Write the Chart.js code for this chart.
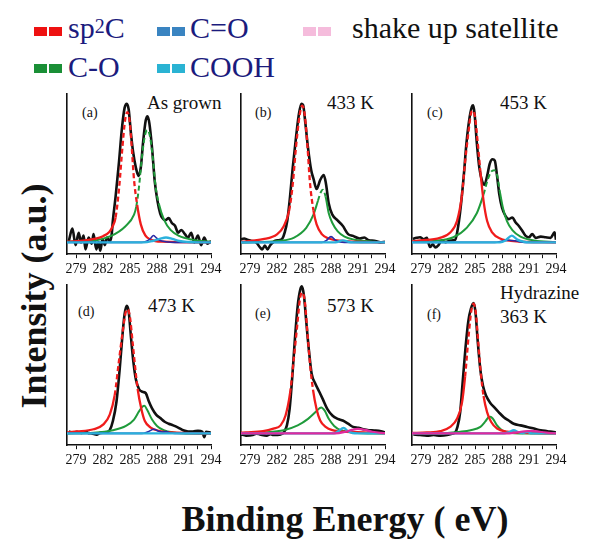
<!DOCTYPE html>
<html>
<head>
<meta charset="utf-8">
<script src="https://cdn.jsdelivr.net/npm/chart.js@4.4.1/dist/chart.umd.min.js"></script>
<style>
  body { margin: 0; width: 595px; height: 541px; position: relative; overflow: hidden; background: #fff;
         font-family: 'Liberation Serif', 'Times New Roman', serif; }
  canvas { position: absolute; }
  .t { position: absolute; white-space: nowrap; line-height: 1; color: #111; font-family: 'Liberation Serif', serif; }
  .sq { position: absolute; width: 13px; height: 9px; }
  .lg { position: absolute; white-space: nowrap; line-height: 1; font-size: 30px; color: #1b1b7d;
        font-family: 'Liberation Serif', 'Times New Roman', serif; }
</style>
</head>
<body>

<!-- legend -->
<div class="sq" style="left:34px;top:27px;background:#ee1111"></div>
<div class="sq" style="left:49px;top:27px;background:#ee1111"></div>
<div class="lg" style="left:68px;top:13px">sp<span style="font-size:20px;vertical-align:5px">2</span>C</div>
<div class="sq" style="left:157px;top:27px;background:#3a84c1"></div>
<div class="sq" style="left:172px;top:27px;background:#3a84c1"></div>
<div class="lg" style="left:190px;top:13px">C=O</div>
<div class="sq" style="left:303px;top:27px;background:#f5bcdc"></div>
<div class="sq" style="left:318px;top:27px;background:#f5bcdc"></div>
<div class="lg" style="left:352px;top:13px;color:#111">shake up satellite</div>
<div class="sq" style="left:34px;top:64px;background:#1a8f36"></div>
<div class="sq" style="left:49px;top:64px;background:#1a8f36"></div>
<div class="lg" style="left:68px;top:52px">C-O</div>
<div class="sq" style="left:157px;top:64px;background:#2ab3d3"></div>
<div class="sq" style="left:172px;top:64px;background:#2ab3d3"></div>
<div class="lg" style="left:190px;top:52px">COOH</div>

<!-- axis titles -->
<div class="t" style="left:-116px;top:278px;width:300px;text-align:center;font-size:36px;line-height:36px;font-weight:bold;transform:rotate(-90deg)">Intensity (a.u.)</div>
<div class="t" style="left:95px;top:501px;width:500px;text-align:center;font-size:36px;font-weight:bold">Binding Energy ( eV)</div>

<!-- panel captions -->
<div class="t" style="left:82px;top:106px;font-size:14px">(a)</div>
<div class="t" style="left:147px;top:93px;font-size:19px">As grown</div>
<div class="t" style="left:255px;top:106px;font-size:14px">(b)</div>
<div class="t" style="left:327px;top:93px;font-size:19px">433 K</div>
<div class="t" style="left:427px;top:106px;font-size:14px">(c)</div>
<div class="t" style="left:500px;top:93px;font-size:19px">453 K</div>
<div class="t" style="left:78px;top:305px;font-size:14px">(d)</div>
<div class="t" style="left:148px;top:296px;font-size:19px">473 K</div>
<div class="t" style="left:255px;top:307px;font-size:14px">(e)</div>
<div class="t" style="left:327px;top:296px;font-size:19px">573 K</div>
<div class="t" style="left:427px;top:308px;font-size:14px">(f)</div>
<div class="t" style="left:500px;top:283px;font-size:19px">Hydrazine</div>
<div class="t" style="left:500px;top:307px;font-size:19px">363 K</div>

<script>
// x axis ticks (binding energy, eV)
const tickVals = [279, 282, 285, 288, 291, 294];
const minorVals = [280.5, 283.5, 286.5, 289.5, 292.5];

// (a) as grown  -- [energy, intensity]
const a_exp = [[278.2,1],[278.6,10],[278.95,-2],[279.3,7],[279.55,0],[279.85,5],[280.05,-5],[280.4,3.5],[280.75,-1],[280.95,6],[281.25,-5],[281.5,0],[281.7,-6],[281.95,2.5],[282.2,-2],[282.45,3.5],[282.75,1],[282.95,5],[283.1,16],[283.4,33],[283.75,56],[284.1,82],[284.4,97],[284.65,100],[284.85,96],[285.1,79],[285.35,65],[285.65,54],[285.95,48],[286.2,54],[286.45,72],[286.75,88],[286.95,91],[287.15,86],[287.45,68],[287.75,44],[288.05,30],[288.35,21],[288.6,17.5],[288.9,16],[289.3,17.5],[289.65,14],[290,12],[290.35,7],[290.7,9],[291.1,6],[291.45,3.5],[291.8,7],[292.15,0],[292.55,5],[292.9,-2],[293.25,3.5],[293.6,-1],[294,1]];
const a_sp2 = [[278,0.5],[280,1.5],[281,2.5],[282,4.5],[282.7,7.5],[283.1,12],[283.4,18],[283.8,40],[284.15,68],[284.45,88],[284.7,94],[284.95,88],[285.2,68],[285.45,45],[285.8,27],[286.2,13],[286.7,5],[287.3,2],[288.5,0.5],[294,0]];
const a_cO = [[278,0.5],[280.8,1.2],[282.9,4.7],[284.5,11.7],[285.45,20],[285.7,26],[286,40],[286.3,60],[286.6,75],[286.9,81],[287.2,77],[287.5,63],[287.85,40],[288.2,28],[288.8,16],[289.5,9],[290.45,4.7],[291.9,2],[294,0.5]];
const a_cdO = [[278,0],[286.3,0],[286.9,1],[287.3,3],[287.6,5],[287.9,3.5],[288.3,1.5],[289,0.5],[290,0],[294,0]];
const a_cooh = [[278,0],[286.5,0],[287.5,1],[288.3,2.5],[289,3.5],[289.7,2.5],[290.5,1],[291.5,0.3],[292.5,0],[294,0]];

// (b) 433 K
const b_exp = [[278,2.3],[278.35,2.8],[278.7,1.9],[279.1,1.2],[279.7,0],[280.1,-3.5],[280.35,-5],[280.65,-2.3],[280.95,-5],[281.25,-2],[281.55,0],[281.8,1.2],[282.2,1.6],[282.6,2.8],[282.85,7],[283.15,16],[283.45,33],[283.75,54],[284.1,75],[284.4,91],[284.7,100],[284.9,99],[285.15,86],[285.45,68],[285.8,52],[286.05,46],[286.4,38.5],[286.8,45],[287.2,48.6],[287.45,42],[287.75,28],[288.15,20],[288.7,16],[289.3,12],[289.9,6],[290.45,4.7],[291.2,2.8],[291.7,3.5],[292.2,1.5],[292.8,1.2],[293.5,0],[294,0.5]];
const b_sp2 = [[278,0.3],[280.45,2.3],[282,5.8],[282.75,11.7],[283.35,23],[283.75,42],[284.1,68],[284.5,91],[284.8,98.6],[285.1,91],[285.4,68],[285.65,44],[286.05,23],[286.4,13],[287,5.8],[287.75,2.8],[288.9,1.2],[294,0]];
const b_cO = [[278,0],[282.4,1.2],[283.9,3.5],[285.25,10.5],[286.05,20],[286.55,30],[286.85,36],[287.1,38],[287.4,33],[287.75,21],[288.15,14],[288.75,8],[289.5,4.2],[290.65,1.9],[292.8,0.5],[294,0.2]];
const b_cdO = [[278,0],[287,0],[287.5,1.5],[288,4.2],[288.5,1.5],[289,0.3],[289.5,0],[294,0]];
const b_cooh = [[278,0],[288.5,0],[289.3,1.5],[290,0.3],[290.5,0],[294,0]];

// (c) 453 K
const c_exp = [[278.1,2.6],[278.5,3.3],[278.9,3.7],[279.3,2.3],[279.65,3.3],[280,-3.3],[280.3,-1.4],[280.6,-3.7],[280.95,-1.9],[281.3,1.4],[281.7,0.2],[282.25,1.4],[282.8,1.9],[283.05,8.4],[283.35,22],[283.75,48],[284.05,71.5],[284.35,88],[284.65,97.7],[284.8,98.8],[284.95,93],[285.2,72],[285.5,53],[285.8,44],[286.05,41.6],[286.35,48],[286.65,57],[286.95,60],[287.2,59],[287.45,48],[287.7,34.6],[288,25],[288.4,19],[288.75,16.8],[289.15,18],[289.5,14.5],[289.85,12],[290.25,8.4],[290.6,4.9],[291,3.7],[291.35,6],[291.75,3.3],[292.3,4.2],[292.85,3.7],[293.4,3.3],[293.85,7.2],[294,2]];
const c_sp2 = [[278,0.8],[278.9,1.4],[281.1,3.3],[282.25,7.2],[283,15.4],[283.55,34],[283.9,58],[284.3,81],[284.55,93],[284.78,95],[285,90.6],[285.3,72],[285.6,51],[285.95,30],[286.35,15.4],[286.9,7.2],[287.85,2.6],[289.3,1],[294,0]];
const c_cO = [[278,0.3],[280.4,1],[282.6,3.7],[284.1,10.7],[285.2,21],[285.95,34.6],[286.4,45],[286.8,51],[287.15,52],[287.45,48.6],[287.75,37],[288.1,25],[288.55,15.4],[289.15,8.9],[290.05,4.2],[291.55,1.4],[294,0.3]];
const c_cdO = [[278,0],[287.2,0],[288.2,1.2],[288.8,1.6],[289.6,1],[290.5,0],[294,0]];
const c_cooh = [[278,0],[287.8,0],[288.4,1.5],[289.1,4.9],[289.7,2],[290.4,0.5],[291,0],[294,0]];

// (d) 473 K
const d_exp = [[278.2,1.4],[278.7,0.5],[279.1,1.2],[279.6,0.3],[280.05,1.4],[280.4,0.2],[280.75,0],[281.3,-1],[281.7,0.4],[282.05,0.5],[282.4,0.7],[282.75,2.3],[283.1,8.9],[283.5,23],[283.85,46],[284.15,70],[284.4,86],[284.65,92],[284.85,88],[285.1,70],[285.35,53],[285.65,39],[286,32],[286.4,30],[286.75,29],[287.1,23],[287.45,18],[287.9,13.5],[288.35,11.2],[288.85,8.4],[289.3,7],[289.8,5.8],[290.35,4.2],[290.9,2.3],[291.45,1.4],[292,1.4],[292.55,1.9],[293.05,1.2],[293.25,-2.8],[293.45,1.2],[294,0.5]];
const d_sp2 = [[278,0.8],[279.1,1.4],[280.95,3],[282.05,6.5],[282.75,13.5],[283.3,27.6],[283.75,51],[284.2,74],[284.55,88],[284.75,89.5],[285,83.6],[285.3,65],[285.6,46],[285.85,32],[286.25,18],[286.65,8.9],[287.3,4.2],[288.2,1.9],[289.65,0.7],[294,0]];
const d_cO = [[278,0],[280.95,0.5],[283.1,2.3],[284.55,5.4],[285.45,10],[286,15.9],[286.4,19.4],[286.6,20],[286.9,17],[287.45,10],[288,5.4],[288.75,2.3],[289.8,0.7],[291.8,0],[294,0]];
const d_cdO = [[278,0],[286.3,0],[287,1.2],[287.65,3],[288.2,1.5],[288.6,1],[289,1.4],[289.5,0.3],[290,0],[294,0]];
const d_cooh = [[278,0],[294,0]];

// (e) 573 K
const e_exp = [[278,-0.7],[278.55,-1.6],[279.3,-1.2],[279.7,-0.2],[280.1,-0.7],[280.85,-1.6],[281.25,-0.5],[281.6,-1.2],[282.4,-0.7],[282.75,0.7],[283.1,5.8],[283.4,17.5],[283.7,41],[284,69],[284.3,92],[284.6,104],[284.77,106],[285,99],[285.25,80.6],[285.55,59.6],[285.85,43],[286.25,36],[286.7,30],[287.1,24.5],[287.6,17.5],[288.15,12.9],[288.75,10.5],[289.3,9.3],[289.9,7],[290.45,4.7],[291.05,4],[291.6,3],[292.2,2.3],[292.8,2.1],[293.55,1.6],[294,0.7]];
const e_sp2 = [[278,0.5],[278.55,0.7],[280.45,1.6],[281.6,3.5],[282.4,5.8],[282.95,12.9],[283.45,29],[283.85,52.6],[284.25,78],[284.55,97],[284.8,101.6],[285.1,94.6],[285.4,71],[285.7,48],[286,31.5],[286.4,17.5],[286.8,9.3],[287.4,4.7],[288.15,2.3],[289.7,1.2],[294,0.2]];
const e_cO = [[278,0],[280.45,0.7],[282.75,2.3],[284.3,5.8],[285.45,10.5],[286.25,15.2],[286.7,18],[286.92,18.7],[287.3,16.4],[287.75,10.5],[288.35,5.4],[289.1,2.3],[290.45,0.7],[292.7,0],[294,0]];
const e_cooh = [[278,0],[288.3,0],[288.8,1.5],[289.4,4],[289.9,1.5],[290.4,0.3],[291,0],[294,0]];
const e_shake = [[278,0],[288.5,0],[289.5,1],[290.3,2.5],[291,3.2],[291.8,2.5],[292.6,1.2],[293.5,0.4],[294,0.2]];

// (f) hydrazine 363 K
const f_exp = [[278.15,-0.7],[278.9,-1.2],[279.65,-1.6],[280.4,-1.2],[281.15,-1.6],[281.9,-1.2],[282.45,-0.3],[282.8,0.7],[283.05,4.7],[283.35,15.2],[283.65,38.6],[283.95,62],[284.25,80.6],[284.55,90],[284.85,94],[285.05,87.6],[285.3,66.6],[285.6,45.6],[285.9,33.9],[286.25,26.9],[286.7,22],[287.15,18.7],[287.65,15.2],[288.2,11.7],[288.75,9.3],[289.3,7],[290.05,5.8],[290.8,4.7],[291.55,3.5],[292.3,2.3],[293.05,1.6],[293.75,0.9],[294,0.7]];
const f_sp2 = [[278,0.3],[279.65,0.7],[281.15,1.6],[282.25,4.7],[283,10.5],[283.55,22],[283.9,41],[284.3,71],[284.6,88.8],[284.85,93.5],[285.1,86.4],[285.35,66.6],[285.65,43],[285.95,27],[286.35,15.2],[286.8,8.2],[287.45,3.5],[288.55,1.2],[290.05,0.5],[294,0]];
const f_cO = [[278,0],[281.15,0],[283.35,1.2],[284.5,2.3],[285.6,4.7],[286.15,8.6],[286.5,11.7],[286.7,12.1],[287,10.5],[287.45,5.8],[288,2.3],[288.75,0.7],[290,0],[294,0]];
const f_cooh = [[278,0],[288.2,0],[288.8,1],[289.3,2.3],[289.8,1],[290.3,0.3],[290.8,1.2],[291.3,0],[294,0]];
const f_shake = [[278,0],[288.5,0],[289.5,0.6],[290.5,1.5],[291.3,1.8],[292.2,1.2],[293.2,0.4],[294,0]];

const col = { exp: '#111111', sp2: '#f01c1c', cO: '#1f9b3b', cdO: '#2a2aa6', cooh: '#2bb1dc', shake: '#e02a9e' };

// panel boxes (chart area position) and which parts are dashed
const W = 144, H = 165;
const panels = [
  { x: 67,  y: 94,  exp: a_exp, sp2: a_sp2, cO: a_cO, cdO: a_cdO, cooh: a_cooh, shake: null,    redDash: 16, greenDash: 22 },
  { x: 241, y: 94,  exp: b_exp, sp2: b_sp2, cO: b_cO, cdO: b_cdO, cooh: b_cooh, shake: null,    redDash: 18, greenDash: 28 },
  { x: 412, y: 94,  exp: c_exp, sp2: c_sp2, cO: c_cO, cdO: c_cdO, cooh: c_cooh, shake: null,    redDash: 30, greenDash: 34 },
  { x: 67,  y: 285, exp: d_exp, sp2: d_sp2, cO: d_cO, cdO: d_cdO, cooh: d_cooh, shake: null,    redDash: 18, greenDash: null },
  { x: 241, y: 285, exp: e_exp, sp2: e_sp2, cO: e_cO, cdO: null,  cooh: e_cooh, shake: e_shake, redDash: 20, greenDash: null },
  { x: 412, y: 285, exp: f_exp, sp2: f_sp2, cO: f_cO, cdO: null,  cooh: f_cooh, shake: f_shake, redDash: 22, greenDash: null },
];

function line(data, color, width, dashAbove) {
  const ds = {
    data: data.map(p => ({ x: p[0], y: p[1] })),
    borderColor: color,
    borderWidth: width,
    pointRadius: 0,
    fill: false,
    cubicInterpolationMode: 'monotone',
  };
  if (dashAbove != null) {
    ds.segment = {
      borderDash: c => (c.p0.parsed.y > dashAbove && c.p1.parsed.y > dashAbove) ? [5, 3] : undefined,
    };
  }
  return ds;
}

const allTicks = tickVals.concat(minorVals).sort((p, q) => p - q);

panels.forEach(p => {
  const cv = document.createElement('canvas');
  cv.width = 12 + W + 16;
  cv.height = 4 + H + 22;
  document.body.appendChild(cv);

  // first dataset is drawn on top
  const sets = [];
  if (p.shake) sets.push(line(p.shake, col.shake, 2.2));
  if (p.cooh) sets.push(line(p.cooh, col.cooh, 2.4));
  if (p.cdO) sets.push(line(p.cdO, col.cdO, 1.6));
  sets.push(line(p.sp2, col.sp2, 2.3, p.redDash));
  sets.push(line(p.cO, col.cO, 2, p.greenDash));
  sets.push(line(p.exp, col.exp, 2.6));

  const chart = new Chart(cv.getContext('2d'), {
    type: 'line',
    data: { datasets: sets },
    options: {
      responsive: false,
      maintainAspectRatio: false,
      animation: false,
      layout: { padding: { left: 12, top: 4, right: 16, bottom: 0 } },
      plugins: { legend: { display: false }, tooltip: { enabled: false } },
      scales: {
        x: {
          type: 'linear',
          min: 278,
          max: 294,
          afterBuildTicks: s => { s.ticks = allTicks.map(v => ({ value: v })); },
          ticks: {
            autoSkip: false,
            maxRotation: 0,
            padding: 3,
            color: '#111',
            font: { family: "'Liberation Serif', serif", size: 14 },
            callback: v => tickVals.includes(v) ? String(v) : '',
          },
          grid: { display: true, drawOnChartArea: false, drawTicks: true, tickLength: 4, color: '#111', lineWidth: 1 },
          border: { display: true, color: '#111', width: 1.6 },
        },
        y: {
          min: -8.5,
          max: 107,
          ticks: { display: false },
          grid: { display: false, drawTicks: false },
          border: { display: true, color: '#111', width: 1.6 },
        },
      },
    },
  });

  const ca = chart.chartArea;
  cv.style.left = (p.x - ca.left) + 'px';
  cv.style.top = (p.y - ca.top) + 'px';
});
</script>
</body>
</html>
